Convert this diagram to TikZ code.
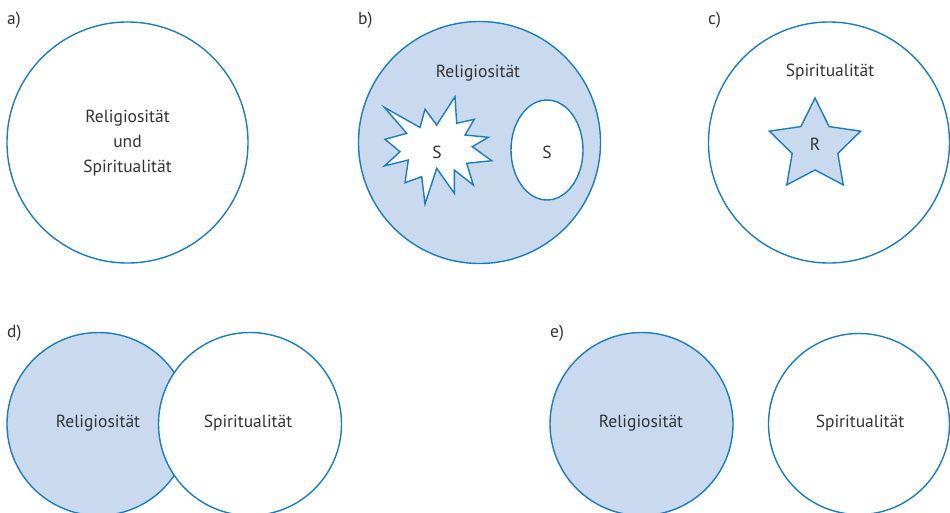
\documentclass[tikz,border=0pt]{standalone}
\usepackage{fontspec}
\setmainfont{PT Sans}
\usetikzlibrary{shapes.geometric}
\definecolor{lineblue}{HTML}{1A7DC2}
\definecolor{fillblue}{HTML}{C9D9EE}
\definecolor{txt}{HTML}{333333}
\tikzset{
  circ/.style={circle, draw=lineblue, line width=1.4pt, inner sep=0pt},
  shapeline/.style={draw=lineblue, line width=1.4pt, line join=miter},
  lbl/.style={text=txt, font=\fontsize{17.5}{25}\selectfont, inner sep=0pt, align=center},
  panel/.style={text=txt, font=\fontsize{17.5}{20}\selectfont, inner sep=0pt, anchor=base west},
}
\begin{document}
\begin{tikzpicture}[x=1pt, y=-1pt]
\useasboundingbox (0,0) rectangle (950,513);
\fill[white] (0,0) rectangle (950,513);
% a)
\node[panel] (la) at (7,25) {a)};
\node[circ, fill=white, minimum size=241pt] (ca) at (127.5,142.5) {};
\node[lbl] (ta) at (127.5,143) {Religiosität\\und\\Spiritualität};
% b)
\node[panel] (lb) at (358,25) {b)};
\node[circ, fill=fillblue, minimum size=242pt] (cb) at (479.5,142.5) {};
\node[lbl] (tb) at (478,73) {Religiosität};
\draw[shapeline, fill=white]
  (384.3,107.3) -- (420,127.5) -- (425,109.3) -- (436.7,125) -- (455,96.7) -- (456.7,123.3)
  -- (474.3,119.3) -- (465,135) -- (488.3,137.3) -- (472.3,146.7) -- (491.7,160.7)
  -- (466.7,163.3) -- (473.3,185) -- (454.3,170) -- (454.3,193.3) -- (436.7,168.3)
  -- (425,204) -- (421.7,176.7) -- (405,182.7) -- (408.3,160) -- (384.3,166)
  -- (400,151.7) -- (385,139.3) -- (406.7,133.3) -- cycle;
\node[lbl] (sb1) at (437,152) {S};
\node[ellipse, shapeline, fill=white, minimum width=72pt, minimum height=100pt, inner sep=0pt] (eb) at (547,150) {};
\node[lbl] (sb2) at (547,152) {S};
% c)
\node[panel] (lc) at (708,25) {c)};
\node[circ, fill=white, minimum size=241pt] (cc) at (829,142.5) {};
\node[lbl] (tc) at (830,72) {Spiritualität};
\begin{scope}[shift={(815,146)}]
\draw[shapeline, fill=fillblue] (-90:48) -- (-54:24) -- (-18:48) -- (18:24) -- (54:48) -- (90:24)
  -- (126:48) -- (162:24) -- (198:48) -- (234:24) -- cycle;
\end{scope}
\node[lbl] (tr) at (815,144) {R};
% d)
\node[panel] (ld) at (7,337) {d)};
\node[circ, fill=fillblue, minimum size=183pt] (cd1) at (98.5,424) {};
\node[circ, fill=white, minimum size=183pt] (cd2) at (250,424) {};
\node[lbl] (td1) at (98,423) {Religiosität};
\node[lbl] (td2) at (248,423) {Spiritualität};
% e)
\node[panel] (le) at (550,337) {e)};
\node[circ, fill=fillblue, minimum size=183pt] (ce1) at (641.5,424) {};
\node[circ, fill=white, minimum size=181pt] (ce2) at (859,424) {};
\node[lbl] (te1) at (641,423) {Religiosität};
\node[lbl] (te2) at (860,423) {Spiritualität};
\end{tikzpicture}
\end{document}
